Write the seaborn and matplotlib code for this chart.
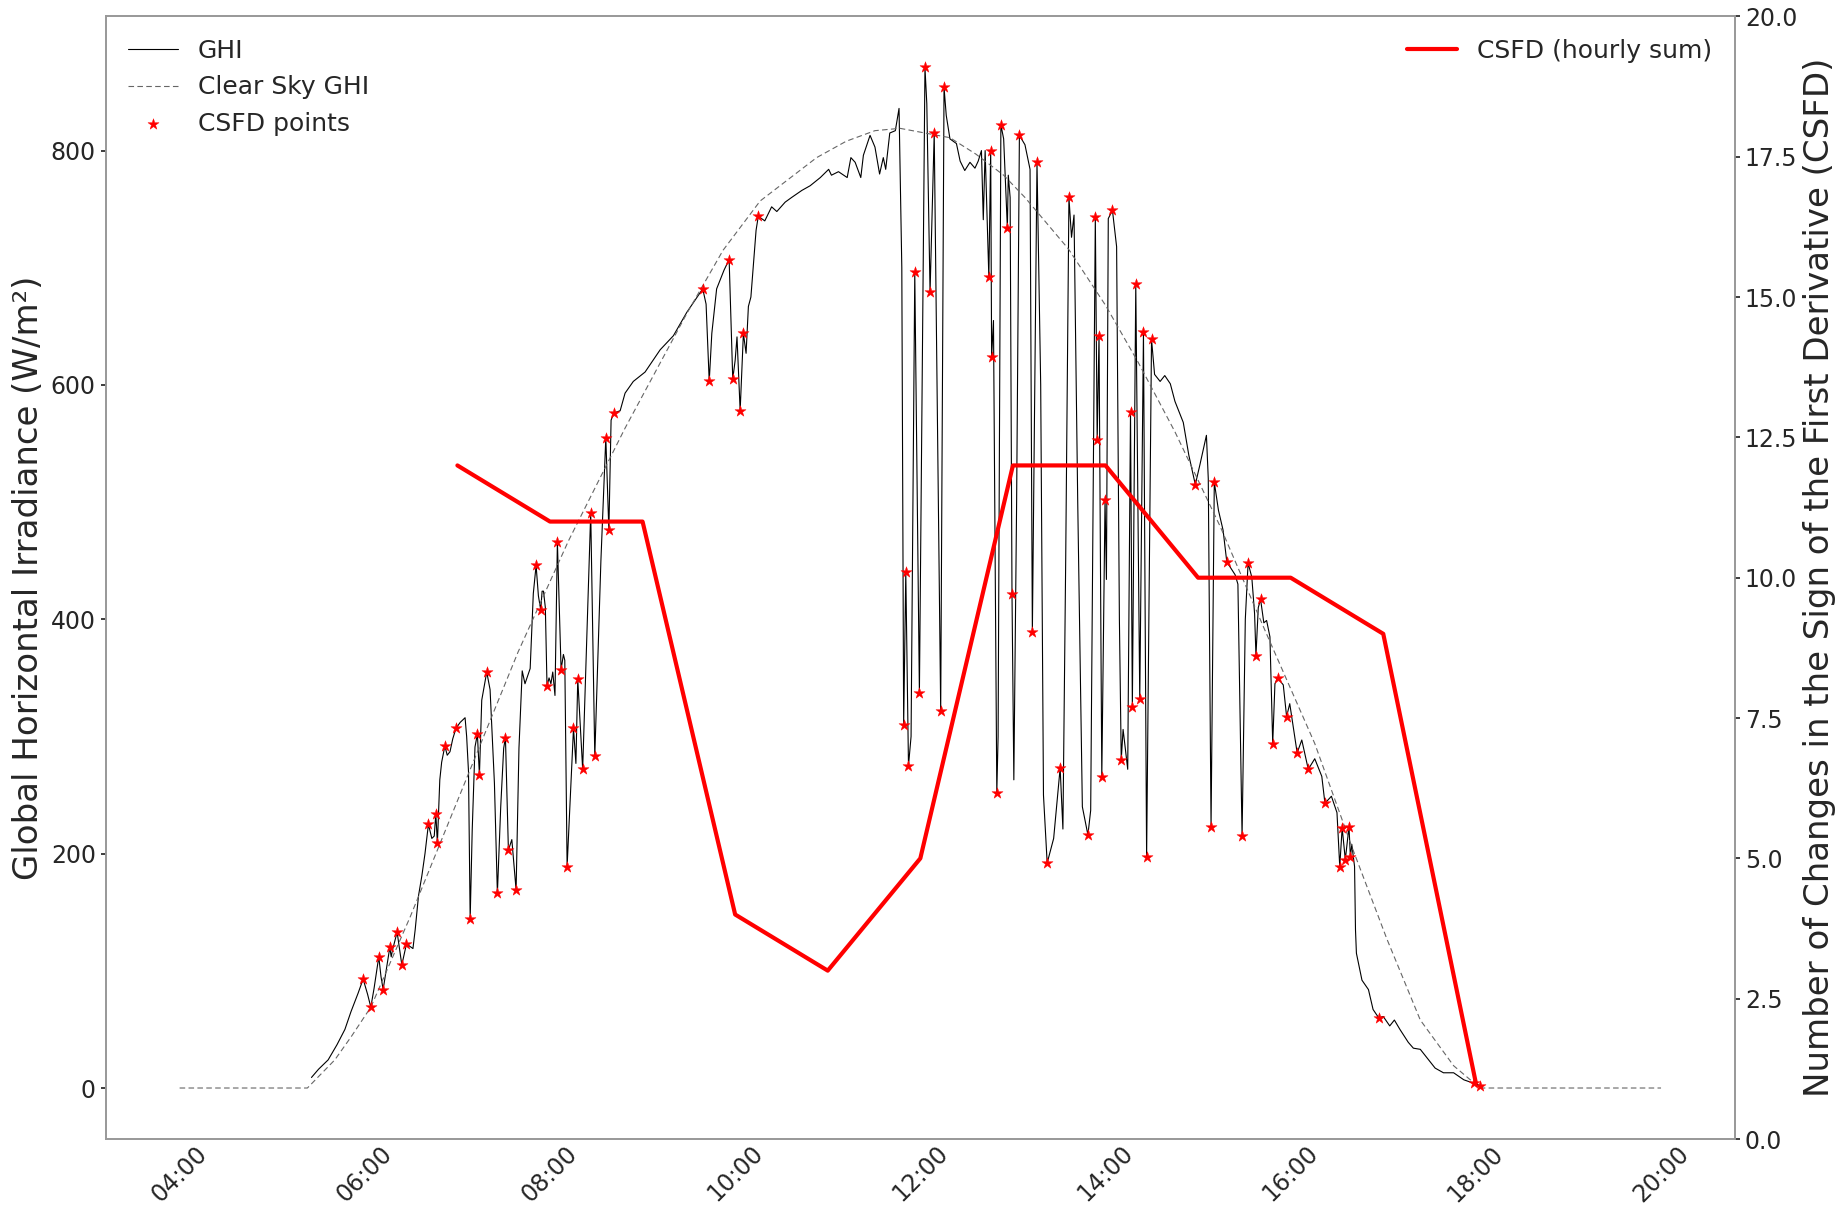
import numpy as np
import pandas as pd
import matplotlib
matplotlib.use("Agg")
import matplotlib.pyplot as plt
import matplotlib.dates as mdates
import seaborn as sns

# ---- data (times in decimal hours of the day) ----
ghi_hours = [5.424, 5.50, 5.604, 5.70, 5.785, 5.85, 5.928, 5.982, 6.03, 6.065, 6.10, 6.151, 6.175, 6.198,
             6.23, 6.27, 6.285, 6.30, 6.349, 6.40, 6.45, 6.52, 6.544, 6.58, 6.616, 6.65, 6.687, 6.724,
             6.75, 6.767, 6.784, 6.81, 6.83, 6.865, 6.89, 6.92, 6.95, 6.985, 7.03, 7.083, 7.10, 7.12,
             7.138, 7.16, 7.19, 7.216, 7.238, 7.263, 7.317, 7.353, 7.40, 7.432, 7.468, 7.50, 7.519,
             7.551, 7.588, 7.634, 7.665, 7.70, 7.73, 7.786, 7.82, 7.85, 7.875, 7.90, 7.915, 7.93, 7.95,
             7.968, 7.99, 8.01, 8.03, 8.054, 8.08, 8.12, 8.145, 8.16, 8.185, 8.254, 8.28, 8.30, 8.353,
             8.44, 8.484, 8.55, 8.603, 8.636, 8.66, 8.69, 8.758, 8.811, 8.90, 9.027, 9.19, 9.333, 9.478,
             9.65, 9.686, 9.72, 9.748, 9.80, 9.88, 9.935, 9.974, 10.0, 10.02, 10.054, 10.089, 10.118,
             10.143, 10.17, 10.226, 10.25, 10.32, 10.394, 10.45, 10.54, 10.61, 10.72, 10.81, 10.92,
             11.01, 11.04, 11.116, 11.21, 11.25, 11.296, 11.357, 11.385, 11.457, 11.51, 11.56, 11.60,
             11.626, 11.67, 11.73, 11.77, 11.80, 11.82, 11.843, 11.872, 11.90, 11.94, 11.99, 12.05,
             12.07, 12.105, 12.15, 12.22, 12.256, 12.28, 12.32, 12.39, 12.43, 12.48, 12.536, 12.59,
             12.625, 12.66, 12.68, 12.70, 12.74, 12.76, 12.77, 12.79, 12.826, 12.84, 12.87, 12.90,
             12.94, 12.95, 12.97, 12.99, 13.01, 13.04, 13.07, 13.13, 13.185, 13.21, 13.26, 13.30,
             13.33, 13.37, 13.44, 13.51, 13.54, 13.57, 13.605, 13.633, 13.66, 13.70, 13.75, 13.81,
             13.84, 13.89, 13.91, 13.93, 13.96, 13.995, 14.01, 14.03, 14.075, 14.12, 14.15, 14.17,
             14.19, 14.24, 14.27, 14.29, 14.327, 14.37, 14.41, 14.444, 14.497, 14.53, 14.59, 14.64,
             14.70, 14.75, 14.84, 14.90, 14.97, 15.02, 15.09, 15.11, 15.14, 15.175, 15.22, 15.27,
             15.31, 15.40, 15.43, 15.475, 15.51, 15.54, 15.58, 15.61, 15.625, 15.65, 15.675, 15.71,
             15.74, 15.776, 15.806, 15.83, 15.86, 15.92, 15.956, 15.99, 16.07, 16.12, 16.19, 16.26,
             16.336, 16.37, 16.44, 16.50, 16.53, 16.556, 16.59, 16.63, 16.645, 16.66, 16.69, 16.70,
             16.71, 16.77, 16.84, 16.89, 16.95, 17.0, 17.07, 17.12, 17.18, 17.27, 17.325, 17.40,
             17.47, 17.56, 17.65, 17.76, 17.87, 17.98, 18.05, 18.07]
ghi_values = [9, 16, 24, 37, 50, 65, 81, 93, 80, 69, 85, 112, 95, 84,
              100, 120, 112, 118, 133, 105, 123, 119, 135, 164, 181, 200, 225, 213,
              215, 234, 209, 263, 278, 292, 284, 287, 298, 307, 312, 316, 300, 270,
              144, 220, 291, 302, 267, 331, 355, 340, 260, 166, 240, 290, 299,
              203, 212, 169, 290, 356, 345, 358, 422, 446, 420, 408, 424, 424, 410,
              343, 350, 345, 355, 335, 466, 357, 370, 365, 189, 307, 277, 349, 272,
              491, 283, 450, 555, 476, 570, 576, 578, 593, 603, 611, 630, 642, 662,
              682, 669, 603, 644, 682, 698, 707, 605, 621, 641, 578, 644, 627,
              667, 675, 732, 744, 740, 752, 748, 756, 760, 766, 770, 777,
              784, 779, 782, 777, 794, 790, 777, 796, 813, 803, 780, 794,
              784, 815, 817, 836, 700, 310, 440, 275, 300, 696, 337, 871,
              840, 679, 815, 322, 854, 830, 810, 806, 791, 783, 790, 785,
              791, 800, 741, 800, 692, 800, 624, 655, 252, 300, 822, 810,
              734, 779, 760, 422, 263, 500, 813, 805, 784, 389, 790, 600,
              250, 192, 213, 273, 221, 450, 760, 726, 745, 500, 240, 216,
              237, 743, 553, 642, 265, 502, 434, 742, 749, 718, 400, 280,
              306, 272, 577, 325, 686, 332, 645, 197, 639, 609, 603, 608,
              601, 586, 568, 540, 515, 532, 557, 520, 223, 517, 493, 476,
              449, 438, 430, 215, 400, 448, 436, 405, 369, 410, 417, 397,
              399, 385, 294, 345, 350, 344, 317, 328, 286, 297, 272, 281,
              266, 243, 249, 235, 189, 222, 195, 223, 197, 208, 189, 135,
              115, 92, 84, 67, 60, 61, 53, 58, 50, 39, 34, 33,
              26, 17, 13, 13, 7, 4, 2, 0]

clear_hours = [4.0, 5.38, 5.676, 5.855, 6.065, 6.49, 7.0, 7.655, 8.2, 8.81, 9.478, 9.87, 10.27, 10.88,
               11.2, 11.51, 11.78, 12.32, 12.6, 12.9, 13.13, 13.6, 14.0, 14.355, 14.75, 15.24, 15.72,
               16.26, 16.66, 17.04, 17.40, 17.76, 18.0, 18.03, 20.0]
clear_values = [0, 0, 24, 44, 69, 146, 245, 372, 467, 563, 661, 715, 757, 794,
                808, 817, 819, 811, 797, 779, 760, 716, 668, 619, 560, 479, 391,
                294, 206, 127, 58, 19, 3, 0, 0]

csfd_pt_hours = [5.982, 6.065, 6.151, 6.198, 6.27, 6.349, 6.40, 6.45, 6.687, 6.767, 6.784, 6.865,
                 6.985, 7.138, 7.216, 7.238, 7.317, 7.432, 7.519, 7.551, 7.634, 7.85, 7.90, 7.968,
                 8.08, 8.12, 8.185, 8.254, 8.30, 8.353, 8.44, 8.484, 8.603, 8.636, 8.69, 9.65, 9.72,
                 9.935, 9.974, 10.054, 10.089, 10.25, 11.82, 11.843, 11.872, 11.94, 11.99, 12.05,
                 12.105, 12.15, 12.22, 12.256, 12.74, 12.76, 12.77, 12.826, 12.87, 12.94, 12.99,
                 13.07, 13.21, 13.26, 13.37, 13.51, 13.605, 13.81, 13.89, 13.91, 13.93, 13.96,
                 13.995, 14.075, 14.17, 14.27, 14.29, 14.327, 14.37, 14.41, 14.444, 14.497, 14.97,
                 15.14, 15.175, 15.31, 15.475, 15.54, 15.625, 15.675, 15.806, 15.86, 15.956, 16.07,
                 16.19, 16.37, 16.53, 16.556, 16.59, 16.63, 16.645, 16.95, 17.98, 18.05]
csfd_pt_values = [93, 69, 112, 84, 120, 133, 105, 123, 225, 234, 209, 292,
                  307, 144, 302, 267, 355, 166, 299, 203, 169, 446, 408, 343,
                  466, 357, 189, 307, 349, 272, 491, 283, 555, 476, 576, 682, 603,
                  707, 605, 578, 644, 744, 310, 440, 275, 696, 337, 871,
                  679, 815, 322, 854, 692, 800, 624, 252, 822, 734, 422,
                  813, 389, 790, 192, 273, 760, 216, 743, 553, 642, 265,
                  502, 749, 280, 577, 325, 686, 332, 645, 197, 639, 515,
                  223, 517, 449, 215, 448, 369, 417, 294, 350, 317, 286,
                  272, 243, 189, 222, 195, 223, 197, 60, 4, 2]

hourly_hours = [7, 8, 9, 10, 11, 12, 13, 14, 15, 16, 17, 18]
hourly_csfd = [12, 11, 11, 4, 3, 5, 12, 12, 10, 10, 9, 1]

# ---- helpers ----
day = pd.Timestamp("2021-06-01")
def to_time(hours):
    return [day + pd.Timedelta(hours=h) for h in hours]

ghi_df = pd.DataFrame({"time": to_time(ghi_hours), "GHI": ghi_values})
clear_df = pd.DataFrame({"time": to_time(clear_hours), "ClearSky": clear_values})
pts_df = pd.DataFrame({"time": to_time(csfd_pt_hours), "GHI": csfd_pt_values})
hourly_df = pd.DataFrame({"time": to_time(hourly_hours), "CSFD": hourly_csfd})

sns.set_theme(style="white")
plt.rcParams["font.family"] = ["DejaVu Sans"]

fig = plt.figure(figsize=(18.39, 12.12), dpi=100)
ax = fig.add_axes([0.0574, 0.0602, 0.8861, 0.9263])

sns.lineplot(data=ghi_df, x="time", y="GHI", ax=ax, color="black", linewidth=0.8, label="GHI")
sns.lineplot(data=clear_df, x="time", y="ClearSky", ax=ax, color="#666666", linewidth=0.8,
             dashes=False, label="Clear Sky GHI")
ax.lines[-1].set_dashes((5, 3))
sns.scatterplot(data=pts_df, x="time", y="GHI", ax=ax, color="red", marker="*", s=70,
                edgecolor="red", linewidth=0.3, label="CSFD points", zorder=5)

ax2 = ax.twinx()
sns.lineplot(data=hourly_df, x="time", y="CSFD", ax=ax2, color="red", linewidth=3,
             label="CSFD (hourly sum)")
ax2.set_ylim(0, 20)

ax.set_xlim(day + pd.Timedelta(hours=3.2), day + pd.Timedelta(hours=20.8))
ax.xaxis.set_major_locator(mdates.HourLocator(byhour=range(4, 21, 2)))
ax.xaxis.set_major_formatter(mdates.DateFormatter("%H:%M"))
for lab in ax.get_xticklabels():
    lab.set_rotation(45)
    lab.set_ha("center")

ax.set_yticks([0, 200, 400, 600, 800])
ax2.set_yticks(np.arange(0, 20.01, 2.5))
ax2.set_yticklabels([f"{v:.1f}" for v in np.arange(0, 20.01, 2.5)])

ax.tick_params(axis="y", labelsize=17, length=3.5, pad=3.5)
ax.tick_params(axis="x", labelsize=17, length=0, pad=1.5)
ax2.tick_params(axis="y", labelsize=17, length=3.5, pad=3.5)
ax.set_xlabel("")
ax.set_ylabel("Global Horizontal Irradiance (W/m²)", fontsize=24.5, labelpad=4)
ax2.set_ylabel("Number of Changes in the Sign of the First Derivative (CSFD)", fontsize=24.5,
               labelpad=4)

for a in (ax, ax2):
    for s in a.spines.values():
        s.set_color("#999999")

ax.legend(loc="upper left", frameon=False, fontsize=18)
ax2.legend(loc="upper right", frameon=False, fontsize=18)

fig.savefig("out.png", dpi=100)
